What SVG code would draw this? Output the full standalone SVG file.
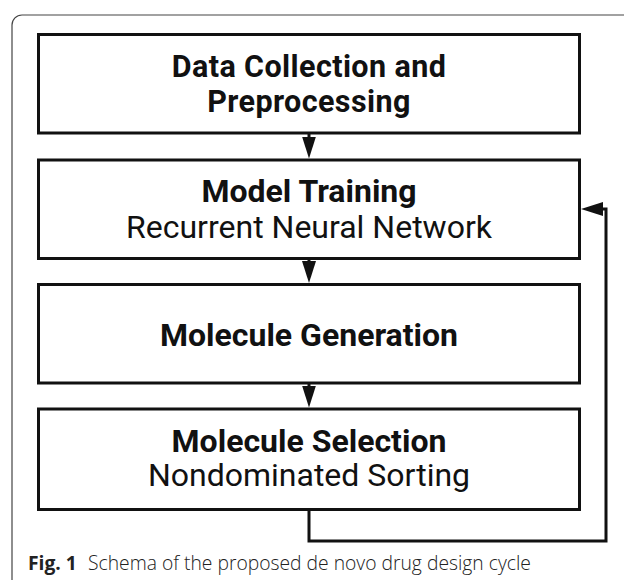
<svg xmlns="http://www.w3.org/2000/svg" width="624" height="580" viewBox="0 0 624 580">
<style>
.box{fill:#fff;stroke:#111;stroke-width:3}
.t{font-family:Roboto,"Liberation Sans",sans-serif;font-size:32px;fill:#111;text-anchor:middle}
.b{font-weight:700}
.r{font-weight:400}
.conn{fill:none;stroke:#111;stroke-width:3}
.cap{font-family:"Open Sans","Liberation Sans",sans-serif;font-size:19.3px;fill:#222}
</style>
<defs>
<marker id="ah" viewBox="0 0 22 14" markerWidth="22" markerHeight="14" markerUnits="userSpaceOnUse" refX="12" refY="7" orient="auto">
<path d="M0,0 L22,7 L0,14 z" fill="#111"/>
</marker>
</defs>
<rect width="624" height="580" fill="#fff"/>
<path d="M12,580 V25 A10,10 0 0 1 22,15 H624" fill="none" stroke="#444" stroke-width="1.2"/>
<g id="connectors">
<path class="conn" d="M309,133 V148.5" marker-end="url(#ah)"/>
<path class="conn" d="M309,258.5 V273" marker-end="url(#ah)"/>
<path class="conn" d="M309,383 V397.5" marker-end="url(#ah)"/>
<path class="conn" d="M309,509.5 V541 H606 V209 H591" marker-end="url(#ah)"/>
</g>
<g id="n1">
<rect class="box" x="38.5" y="34.5" width="541" height="98.5"/>
<text class="t b" x="309" y="76.5" style="font-size:30.5px;letter-spacing:0.4px">Data Collection and</text>
<text class="t b" x="309" y="112.3" style="font-size:30.5px;letter-spacing:0.4px">Preprocessing</text>
</g>
<g id="n2">
<rect class="box" x="38.5" y="160" width="541" height="98.5"/>
<text class="t b" x="309" y="201.7">Model Training</text>
<text class="t r" x="309" y="238.3">Recurrent Neural Network</text>
</g>
<g id="n3">
<rect class="box" x="38.5" y="284.5" width="541" height="98.5"/>
<text class="t b" x="309" y="346">Molecule Generation</text>
</g>
<g id="n4">
<rect class="box" x="38.5" y="409" width="541" height="100.5"/>
<text class="t b" x="309" y="451.7">Molecule Selection</text>
<text class="t r" x="309" y="486">Nondominated Sorting</text>
</g>
<g id="caption">
<text class="cap" x="28" y="569.5"><tspan font-weight="700">Fig. 1</tspan><tspan x="88" font-weight="300">Schema of the proposed de novo drug design cycle</tspan></text>
</g>
</svg>
